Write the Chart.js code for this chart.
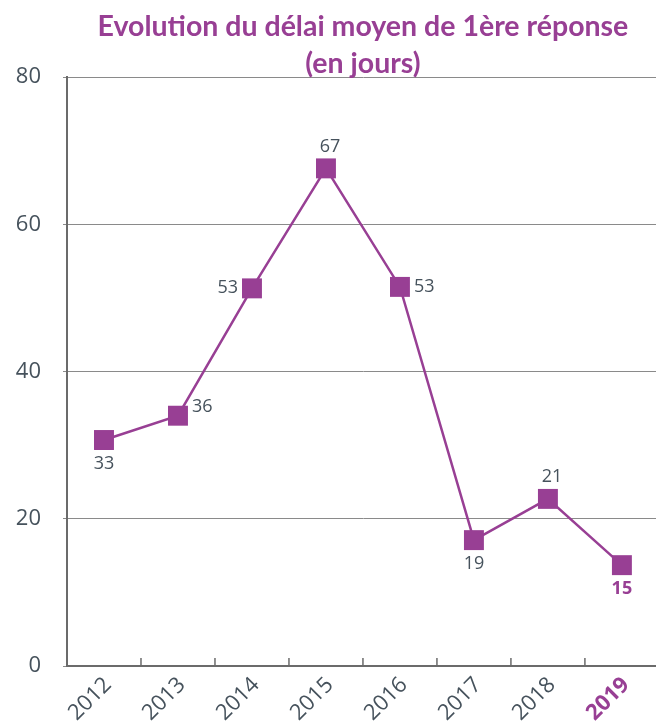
<!DOCTYPE html>
<html lang="fr">
<head>
    <meta charset="UTF-8">
    <title>Délai moyen de 1ère réponse</title>
    <script src="https://cdn.jsdelivr.net/npm/chart.js"></script>
    <style>
        html, body { margin: 0; padding: 0; background: #fff; overflow: hidden; }
        /* a bit wider than the window: the room Chart.js keeps for the rotated last label falls off the right edge */
        #wrap { width: 673px; height: 723px; }
    </style>
</head>
<body>
    <div id="wrap"><canvas id="delaiChart"></canvas></div>
<script>
    // Data
    const years = ['2012', '2013', '2014', '2015', '2016', '2017', '2018', '2019'];
    const delaiMoyen = [30.7, 34.0, 51.3, 67.6, 51.5, 17.1, 22.7, 13.7];   // marker heights
    const delaiLabels = ['33', '36', '53', '67', '53', '19', '21', '15'];   // printed values
    const yTicks = [0, 20, 40, 60, 80];

    const purple = '#983f94';
    const textGrey = '#46525c';

    // where each value label sits around its marker
    const labelPlacement = ['below', 'right', 'left', 'above', 'right', 'below', 'above', 'below'];

    const valueLabels = {
        id: 'valueLabels',
        afterDatasetsDraw(chart) {
            const ctx = chart.ctx;
            const meta = chart.getDatasetMeta(0);
            ctx.save();
            ctx.textBaseline = 'middle';
            meta.data.forEach((pt, i) => {
                const last = i === meta.data.length - 1;
                ctx.font = (last ? 'bold ' : '') + '18px "Open Sans"';
                ctx.fillStyle = last ? purple : textGrey;
                let x = pt.x, y = pt.y;
                ctx.textAlign = 'center';
                switch (labelPlacement[i]) {
                    case 'below': y += 24; break;
                    case 'above': y -= 22; x += 4; break;
                    case 'left': x -= 14; ctx.textAlign = 'right'; break;
                    case 'right': x += 14; ctx.textAlign = 'left'; if (i === 1) y -= 9; break;
                }
                ctx.fillText(delaiLabels[i], x, y);
            });
            ctx.restore();
        }
    };

    // small tick marks between categories, pointing up into the plot
    const innerTicks = {
        id: 'innerTicks',
        afterDraw(chart) {
            const ctx = chart.ctx;
            const xs = chart.scales.x;
            const bottom = chart.chartArea.bottom;
            ctx.save();
            ctx.strokeStyle = '#6b6b6b';
            ctx.lineWidth = 1.5;
            for (let i = 1; i < years.length; i++) {
                const x = (xs.getPixelForValue(i - 1) + xs.getPixelForValue(i)) / 2;
                ctx.beginPath();
                ctx.moveTo(x, bottom - 8);
                ctx.lineTo(x, bottom);
                ctx.stroke();
            }
            ctx.restore();
        }
    };

    const ctx = document.getElementById('delaiChart').getContext('2d');
    new Chart(ctx, {
        type: 'line',
        data: {
            labels: years,
            datasets: [{
                data: delaiMoyen,
                borderColor: purple,
                backgroundColor: purple,
                borderWidth: 2.5,
                pointStyle: 'rect',
                pointRadius: 14.1,
                pointBorderWidth: 0,
                tension: 0,
                fill: false
            }]
        },
        options: {
            responsive: true,
            maintainAspectRatio: false,
            animation: false,
            layout: { padding: 0 },
            plugins: {
                legend: { display: false },
                tooltip: { enabled: false },
                title: {
                    display: true,
                    fullSize: false,
                    text: ['Evolution du délai moyen de 1ère réponse', '(en jours)'],
                    color: purple,
                    font: { family: 'Lato', size: 28.5, weight: 'bold', lineHeight: 1.3 },
                    // second line hangs slightly into the plot, as in the original
                    padding: { top: 8, bottom: -5 }
                }
            },
            scales: {
                x: {
                    offset: true,
                    afterFit: axis => { axis.height = 57; },
                    grid: { display: false },
                    border: { display: true, color: '#6b6b6b', width: 2 },
                    ticks: {
                        minRotation: 45,
                        maxRotation: 45,
                        padding: -2,
                        labelOffset: 4,
                        font: ctx => ({ family: 'Open Sans', size: 22, weight: ctx.index === years.length - 1 ? 'bold' : 'normal' }),
                        color: ctx => ctx.index === years.length - 1 ? purple : textGrey
                    }
                },
                y: {
                    min: yTicks[0],
                    max: yTicks[yTicks.length - 1],
                    afterBuildTicks: axis => { axis.ticks = yTicks.map(v => ({ value: v })); },
                    afterFit: axis => { axis.width = 67; },
                    grid: { color: '#8a8a8a', lineWidth: 1, tickLength: 4 },
                    border: { display: true, color: '#6b6b6b', width: 2 },
                    ticks: {
                        padding: 22,
                        font: { family: 'Open Sans', size: 22 },
                        color: textGrey
                    }
                }
            }
        },
        plugins: [valueLabels, innerTicks]
    });
</script>
</body>
</html>
